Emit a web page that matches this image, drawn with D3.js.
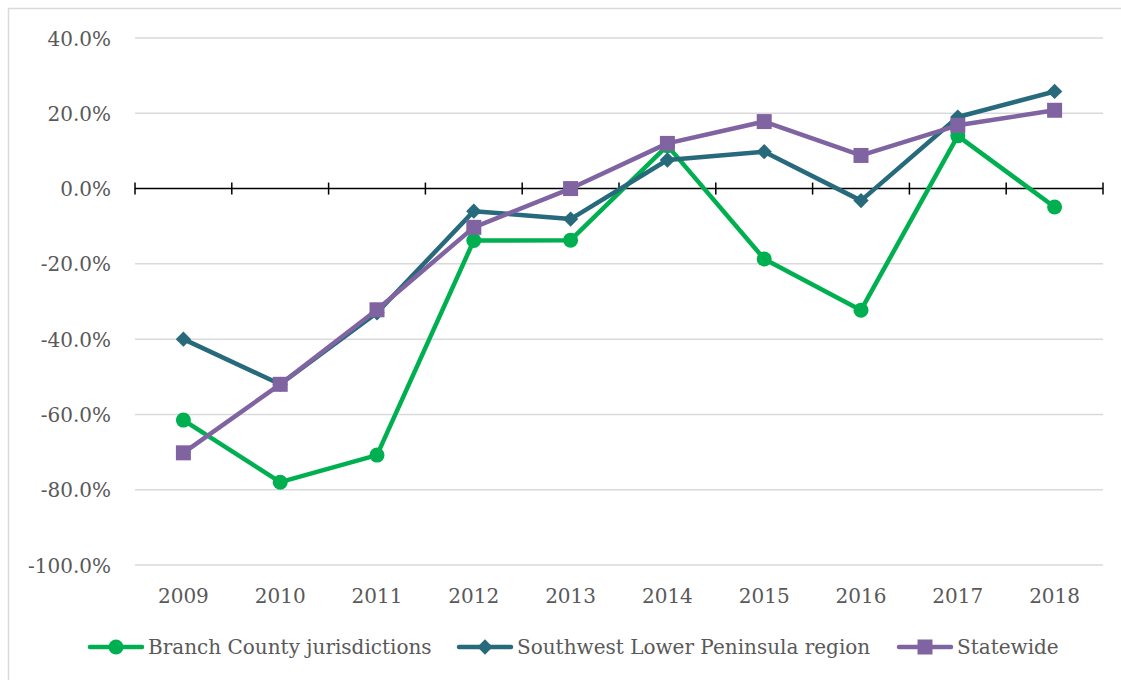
<!DOCTYPE html>
<html><head><meta charset="utf-8">
<script src="https://cdn.jsdelivr.net/npm/d3@7"></script>
<style>body{margin:0;background:#fff}svg{display:block}</style>
</head><body>
<script>
const years = ["2009","2010","2011","2012","2013","2014","2015","2016","2017","2018"];
const branch = [-61.5,-78,-70.8,-13.8,-13.7,11.4,-18.7,-32.3,14,-4.9];
const southwest = [-40,-52,-33,-6,-8.1,7.6,9.8,-3.2,19,25.8];
const statewide = [-70.2,-52,-32.2,-10.3,0,12,17.8,8.8,16.8,20.8];
const seriesNames = ["Branch County jurisdictions","Southwest Lower Peninsula region","Statewide"];
const yTicks = [40,20,0,-20,-40,-60,-80,-100];

const W=1121,H=680;
const svg=d3.select("body").append("svg").attr("width",W).attr("height",H);
svg.append("rect").attr("x",8.5).attr("y",8.5).attr("width",W).attr("height",H).attr("fill","none").attr("stroke","#d9d9d9").attr("stroke-width",1.5);

const x=d3.scaleBand().domain(years).range([135,1103]);
const y=d3.scaleLinear().domain([-100,40]).range([565,38]);
const font="'DejaVu Serif', serif";
const fs=20;

// gridlines
svg.append("g").selectAll("line").data(yTicks.filter(d=>d!==0)).join("line")
 .attr("x1",135).attr("x2",1103).attr("y1",d=>y(d)).attr("y2",d=>y(d))
 .attr("stroke","#d9d9d9").attr("stroke-width",1.5);

// y axis labels
const yAxis=d3.axisLeft(y).tickValues(yTicks).tickSize(0).tickPadding(0).tickFormat(d=>(d<0?"-":"")+Math.abs(d).toFixed(1)+"%");
const ya=svg.append("g").attr("transform","translate(111,0)").call(yAxis);
ya.select(".domain").remove();
ya.selectAll("text").attr("font-family",font).attr("font-size",fs).attr("fill","#595959").attr("dy","0.35em");

// zero axis with ticks at band boundaries
const xAxis=d3.axisBottom(x).tickSize(0).tickFormat("");
svg.append("line").attr("x1",135).attr("x2",1103).attr("y1",y(0)).attr("y2",y(0)).attr("stroke","#000").attr("stroke-width",1.5);
const bounds=years.map(d=>x(d)).concat([x.range()[1]]);
svg.append("g").selectAll("line").data(bounds).join("line")
 .attr("x1",d=>d).attr("x2",d=>d).attr("y1",y(0)-6).attr("y2",y(0)+6).attr("stroke","#000").attr("stroke-width",1.5);

// x labels
const xl=svg.append("g").attr("transform","translate(0,596)").call(xAxis);
xl.select(".domain").remove();
xl.selectAll("text").text(d=>d).attr("font-family",font).attr("font-size",fs).attr("fill","#595959").attr("dy","0.35em").attr("y",0);

const cx=d=>x(d)+x.bandwidth()/2;
const colors=["#00B050","#276A7C","#8064A2"];
const data=[branch,southwest,statewide];
const line=d3.line().x((d,i)=>cx(years[i])).y(d=>y(d));

function marker(g,type,color){
  if(type===0) g.append("circle").attr("r",7.5).attr("fill",color);
  else if(type===1) g.append("path").attr("d",d3.symbol(d3.symbolDiamond2,150)()).attr("fill",color);
  else g.append("rect").attr("x",-7.5).attr("y",-7.5).attr("width",15).attr("height",15).attr("fill",color);
}

data.forEach((vals,k)=>{
  svg.append("path").datum(vals).attr("d",line).attr("fill","none").attr("stroke",colors[k]).attr("stroke-width",4.5).attr("stroke-linejoin","round");
  vals.forEach((v,i)=>{
    const g=svg.append("g").attr("transform",`translate(${cx(years[i])},${y(v)})`);
    marker(g,k,colors[k]);
  });
});

// legend
const legX=[88,457,897];
seriesNames.forEach((n,k)=>{
  const g=svg.append("g").attr("transform",`translate(${legX[k]},647)`);
  g.append("line").attr("x1",2).attr("x2",54).attr("stroke",colors[k]).attr("stroke-width",4.5).attr("stroke-linecap","round");
  const m=g.append("g").attr("transform","translate(28,0)");
  marker(m,k,colors[k]);
  g.append("text").attr("x",60).attr("dy","0.35em").text(n).attr("font-family",font).attr("font-size",fs).attr("fill","#595959");
});
</script>
</body></html>
